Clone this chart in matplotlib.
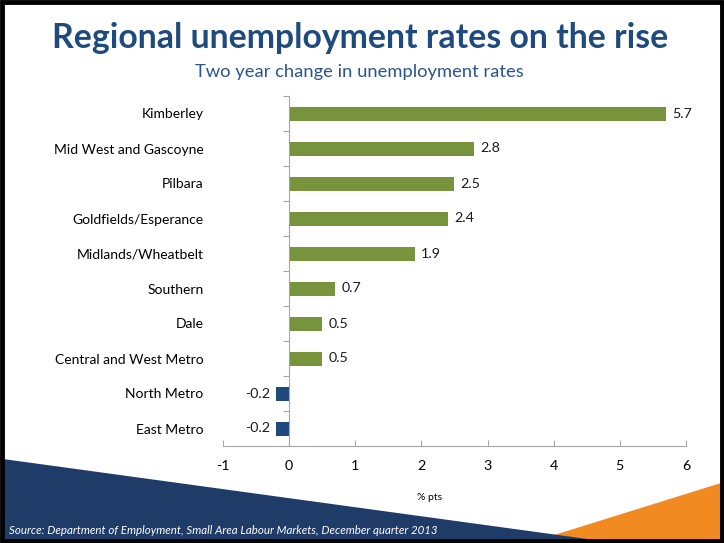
import matplotlib.pyplot as plt
from matplotlib.patches import Polygon
import numpy as np

plt.rcParams['font.family'] = ['Lato', 'DejaVu Sans']

regions = ['Kimberley', 'Mid West and Gascoyne', 'Pilbara', 'Goldfields/Esperance',
           'Midlands/Wheatbelt', 'Southern', 'Dale', 'Central and West Metro',
           'North Metro', 'East Metro']
change = [5.7, 2.8, 2.5, 2.4, 1.9, 0.7, 0.5, 0.5, -0.2, -0.2]
xticks = [-1, 0, 1, 2, 3, 4, 5, 6]

green = '#77933C'
navy = '#1F497D'
axis_grey = '#A6A6A6'

fig = plt.figure(figsize=(7.24, 5.43), dpi=100)

# slide background: border and the two corner wedges
bg = fig.add_axes([0, 0, 1, 1], zorder=0)
bg.set_xlim(0, 724)
bg.set_ylim(543, 0)
bg.axis('off')
bg.add_patch(Polygon([(535, 541), (721, 483), (721, 541)], closed=True,
                     facecolor='#F28A22', edgecolor='none'))
bg.add_patch(Polygon([(3, 459), (602, 541), (3, 541)], closed=True,
                     facecolor='#1F3B68', edgecolor='none'))
bg.add_patch(plt.Rectangle((1.5, 1.5), 720, 539, fill=False, edgecolor='black', lw=3.5))
bg.text(9, 530, 'Source: Department of Employment, Small Area Labour Markets, December quarter 2013',
        color='white', fontsize=8.3, style='italic', va='center', ha='left')

fig.text(0.497, 1 - 38 / 543, 'Regional unemployment rates on the rise', ha='center', va='center',
         fontsize=24.3, fontweight='bold', color='#1F4A7E')
fig.text(0.497, 1 - 72 / 543, 'Two year change in unemployment rates', ha='center', va='center',
         fontsize=13.2, color='#2A5590')

ax = fig.add_axes([223 / 724, 1 - 446 / 543, 463 / 724, 350 / 543], zorder=1)
ax.patch.set_alpha(0)
y = np.arange(len(regions))
colors = [green if v >= 0 else navy for v in change]
ax.barh(y, change, height=0.4, color=colors)
for yi, v in zip(y, change):
    if v >= 0:
        ax.text(v + 0.09, yi, f'{v:.1f}', va='center', ha='left', fontsize=10.3, color='#1a1a1a')
    else:
        ax.text(v - 0.09, yi, f'{v:.1f}', va='center', ha='right', fontsize=10.3, color='#1a1a1a')

ax.set_xlim(-1, 6)
ax.set_ylim(len(regions) - 0.5, -0.5)
ax.set_xticks(xticks)
ax.set_xticklabels([str(t) for t in xticks], fontsize=10.3)
ax.tick_params(axis='x', direction='in', length=4, color=axis_grey, pad=10)

# categories sit between the tick marks on the value axis
ax.set_yticks(np.arange(len(regions) + 1) - 0.5)
ax.set_yticklabels([])
ax.set_yticks(y, minor=True)
ax.set_yticklabels(regions, minor=True, fontsize=10.9)
ax.tick_params(axis='y', which='major', direction='out', length=4, color=axis_grey)
ax.tick_params(axis='y', which='minor', length=0, pad=61.5)

for s in ['top', 'right']:
    ax.spines[s].set_visible(False)
ax.spines['left'].set_position(('data', 0))
ax.spines['left'].set_color(axis_grey)
ax.spines['bottom'].set_color(axis_grey)
ax.set_xlabel('% pts', fontsize=7.5)
ax.xaxis.set_label_coords(0.447, -0.134)

fig.savefig('out.png', dpi=100)
